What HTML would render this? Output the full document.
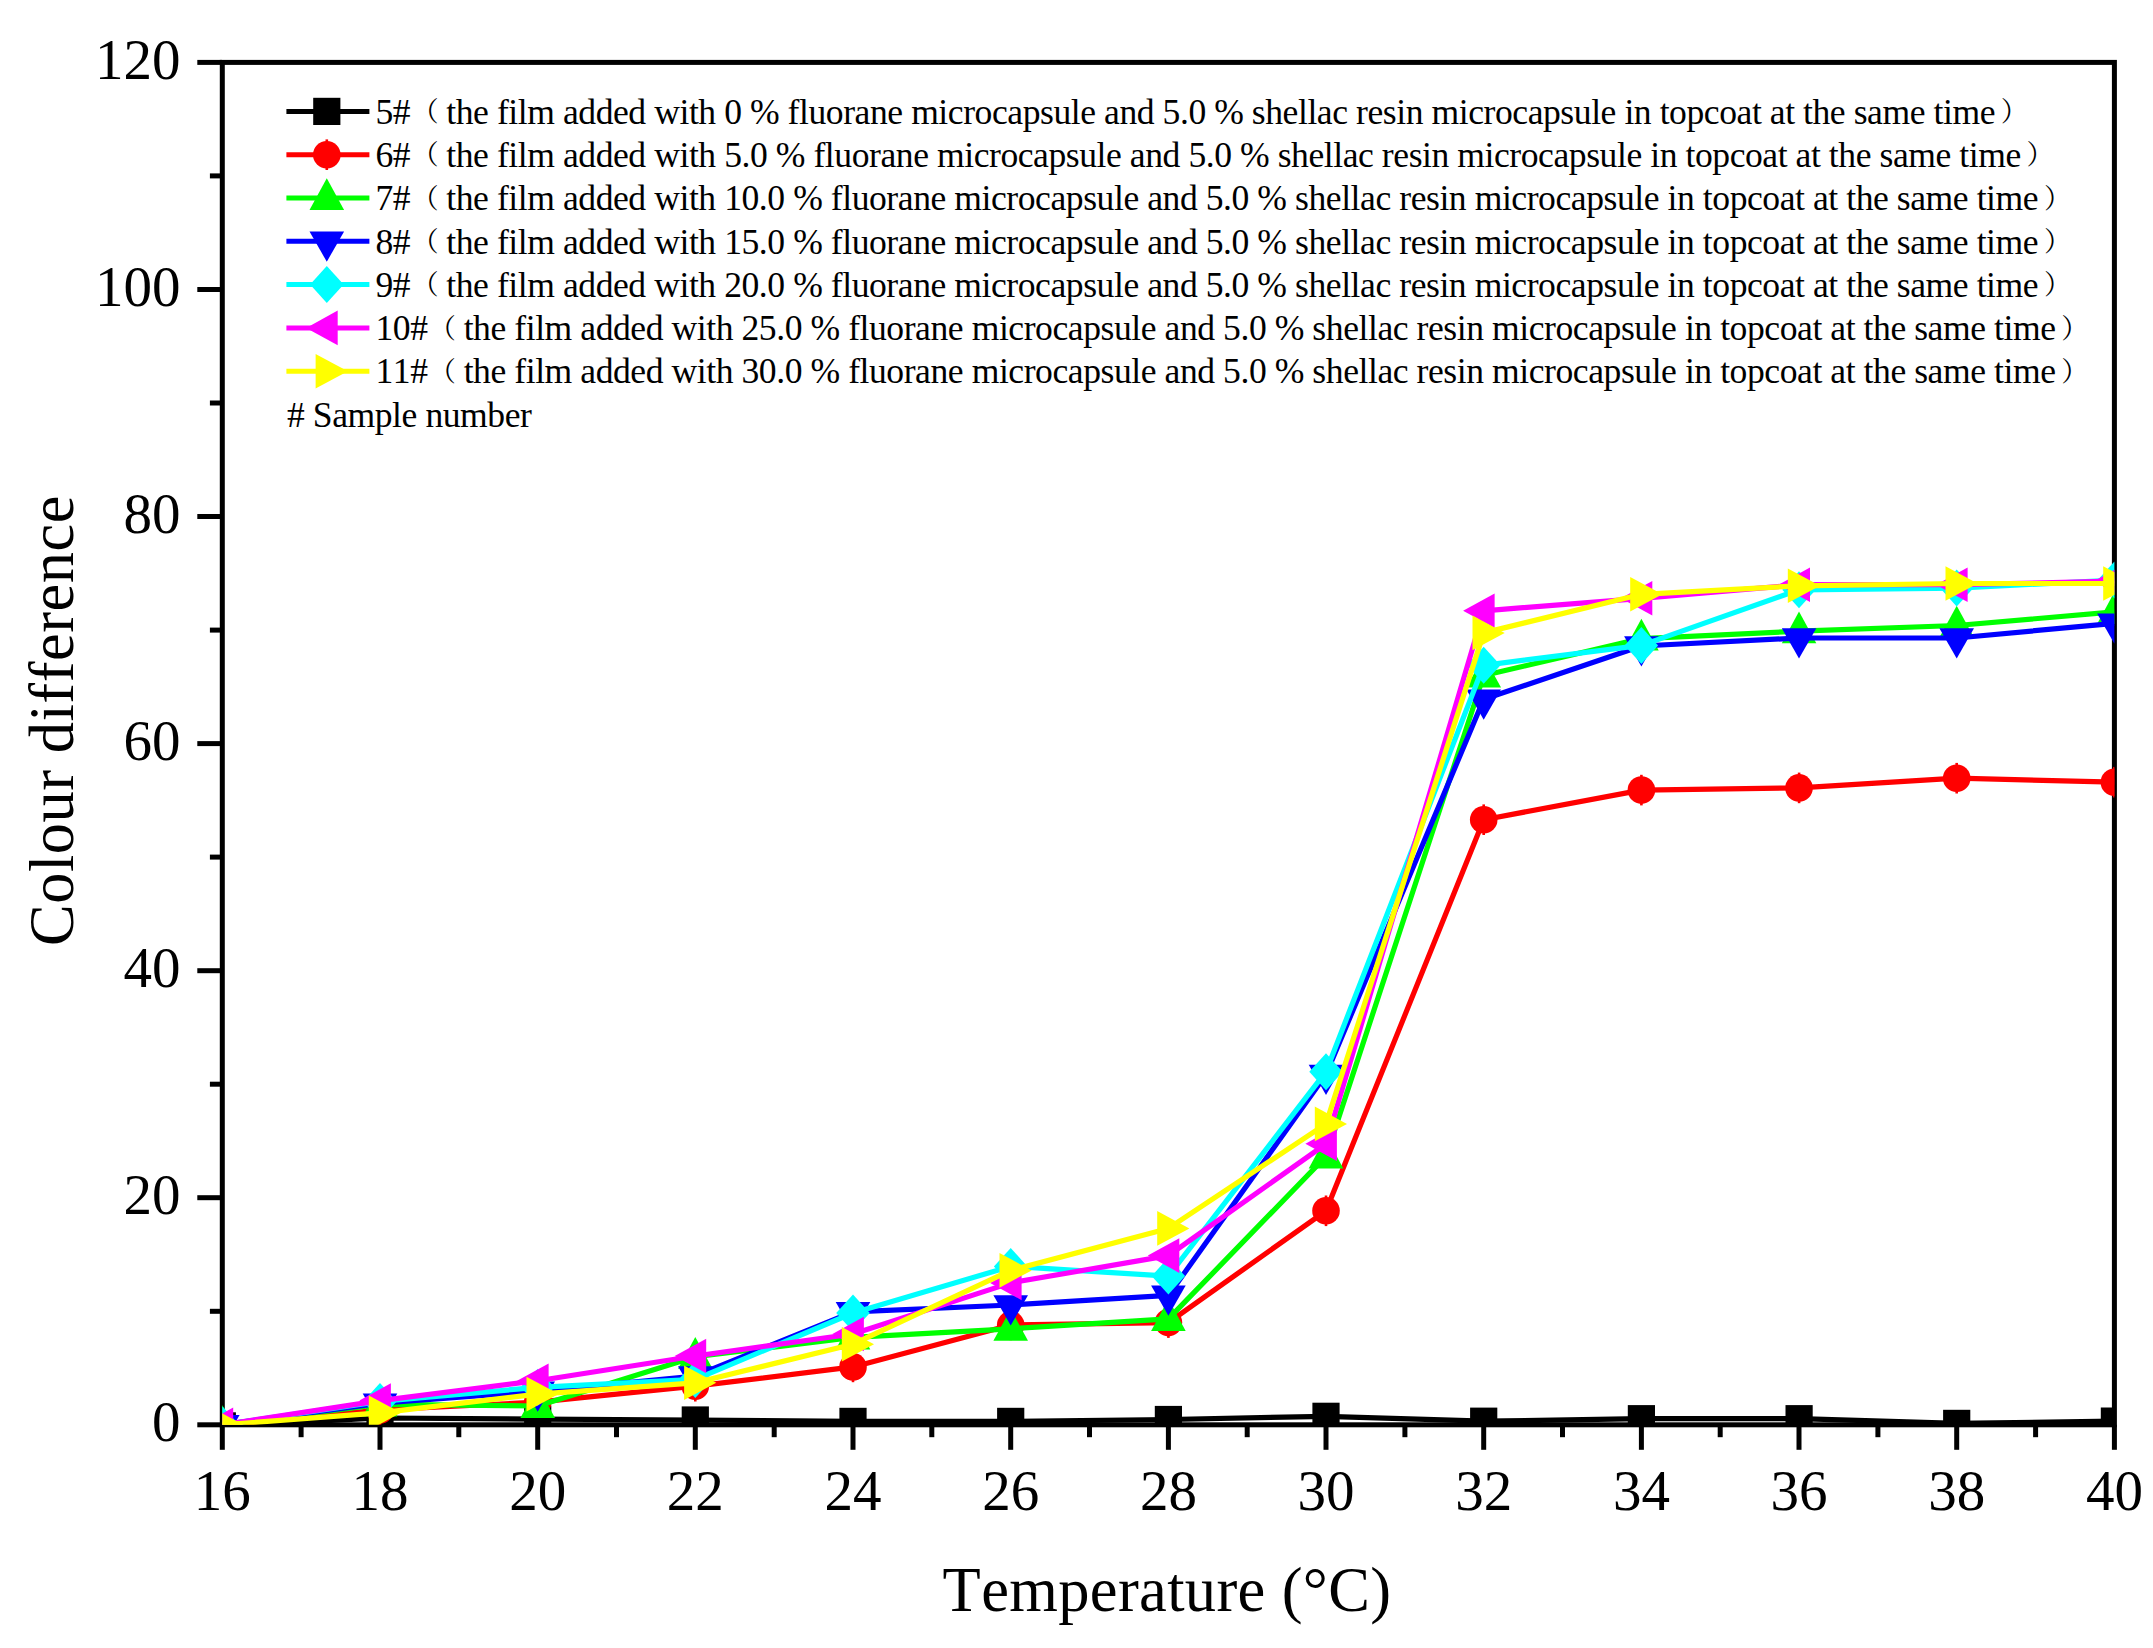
<!DOCTYPE html>
<html lang="en"><head><meta charset="utf-8"><title>Colour difference vs temperature</title>
<style>html,body{margin:0;padding:0;background:#fff}svg{display:block}text{font-family:"Liberation Serif","Noto Serif CJK SC",serif;fill:#000;font-kerning:none}.tk{font-size:57px}.ti{font-size:62.5px}.lg{font-size:35.6px;letter-spacing:-0.435px}.pp{font-size:27.2px;letter-spacing:0}</style></head><body>
<svg width="2153" height="1648" viewBox="0 0 2153 1648">
<rect width="2153" height="1648" fill="#fff"/>
<defs><clipPath id="fr"><rect x="222.3" y="62.4" width="1892.1" height="1362.4"/></clipPath></defs>
<g stroke="#000" stroke-width="5.0" fill="none" stroke-linecap="butt">
<rect x="222.3" y="62.4" width="1892.1" height="1362.4"/>
<line x1="197.3" y1="1424.8" x2="222.3" y2="1424.8"/>
<line x1="209.9" y1="1311.3" x2="222.3" y2="1311.3"/>
<line x1="197.3" y1="1197.7" x2="222.3" y2="1197.7"/>
<line x1="209.9" y1="1084.2" x2="222.3" y2="1084.2"/>
<line x1="197.3" y1="970.7" x2="222.3" y2="970.7"/>
<line x1="209.9" y1="857.1" x2="222.3" y2="857.1"/>
<line x1="197.3" y1="743.6" x2="222.3" y2="743.6"/>
<line x1="209.9" y1="630.1" x2="222.3" y2="630.1"/>
<line x1="197.3" y1="516.5" x2="222.3" y2="516.5"/>
<line x1="209.9" y1="403.0" x2="222.3" y2="403.0"/>
<line x1="197.3" y1="289.5" x2="222.3" y2="289.5"/>
<line x1="209.9" y1="175.9" x2="222.3" y2="175.9"/>
<line x1="197.3" y1="62.4" x2="222.3" y2="62.4"/>
<line x1="222.3" y1="1424.8" x2="222.3" y2="1449.8"/>
<line x1="301.1" y1="1424.8" x2="301.1" y2="1437.2"/>
<line x1="380.0" y1="1424.8" x2="380.0" y2="1449.8"/>
<line x1="458.8" y1="1424.8" x2="458.8" y2="1437.2"/>
<line x1="537.7" y1="1424.8" x2="537.7" y2="1449.8"/>
<line x1="616.5" y1="1424.8" x2="616.5" y2="1437.2"/>
<line x1="695.3" y1="1424.8" x2="695.3" y2="1449.8"/>
<line x1="774.2" y1="1424.8" x2="774.2" y2="1437.2"/>
<line x1="853.0" y1="1424.8" x2="853.0" y2="1449.8"/>
<line x1="931.8" y1="1424.8" x2="931.8" y2="1437.2"/>
<line x1="1010.7" y1="1424.8" x2="1010.7" y2="1449.8"/>
<line x1="1089.5" y1="1424.8" x2="1089.5" y2="1437.2"/>
<line x1="1168.4" y1="1424.8" x2="1168.4" y2="1449.8"/>
<line x1="1247.2" y1="1424.8" x2="1247.2" y2="1437.2"/>
<line x1="1326.0" y1="1424.8" x2="1326.0" y2="1449.8"/>
<line x1="1404.9" y1="1424.8" x2="1404.9" y2="1437.2"/>
<line x1="1483.7" y1="1424.8" x2="1483.7" y2="1449.8"/>
<line x1="1562.5" y1="1424.8" x2="1562.5" y2="1437.2"/>
<line x1="1641.4" y1="1424.8" x2="1641.4" y2="1449.8"/>
<line x1="1720.2" y1="1424.8" x2="1720.2" y2="1437.2"/>
<line x1="1799.0" y1="1424.8" x2="1799.0" y2="1449.8"/>
<line x1="1877.9" y1="1424.8" x2="1877.9" y2="1437.2"/>
<line x1="1956.7" y1="1424.8" x2="1956.7" y2="1449.8"/>
<line x1="2035.6" y1="1424.8" x2="2035.6" y2="1437.2"/>
<line x1="2114.4" y1="1424.8" x2="2114.4" y2="1449.8"/>
</g>
<g class="tk" text-anchor="end">
<text x="180.6" y="1441.3">0</text>
<text x="180.6" y="1214.2">20</text>
<text x="180.6" y="987.2">40</text>
<text x="180.6" y="760.1">60</text>
<text x="180.6" y="533.0">80</text>
<text x="180.6" y="306.0">100</text>
<text x="180.6" y="78.9">120</text>
</g>
<g class="tk" text-anchor="middle">
<text x="222.3" y="1509.6">16</text>
<text x="380.0" y="1509.6">18</text>
<text x="537.7" y="1509.6">20</text>
<text x="695.3" y="1509.6">22</text>
<text x="853.0" y="1509.6">24</text>
<text x="1010.7" y="1509.6">26</text>
<text x="1168.4" y="1509.6">28</text>
<text x="1326.0" y="1509.6">30</text>
<text x="1483.7" y="1509.6">32</text>
<text x="1641.4" y="1509.6">34</text>
<text x="1799.0" y="1509.6">36</text>
<text x="1956.7" y="1509.6">38</text>
<text x="2114.4" y="1509.6">40</text>
</g>
<text class="ti" text-anchor="middle" letter-spacing="0.35" x="1167" y="1611">Temperature (°C)</text>
<text class="ti" text-anchor="middle" letter-spacing="0.5" transform="translate(73.2 720.5) rotate(-90)">Colour difference</text>
<g clip-path="url(#fr)">
<polyline points="222.3,1425.9 380.0,1418.0 537.7,1419.1 695.3,1420.0 853.0,1421.4 1010.7,1421.4 1168.4,1419.5 1326.0,1416.3 1483.7,1421.2 1641.4,1418.7 1799.0,1418.7 1956.7,1423.4 2114.4,1421.1" fill="none" stroke="#000000" stroke-width="5.2" stroke-linejoin="round"/>
<rect x="208.7" y="1412.3" width="27.2" height="27.2" fill="#000000"/>
<rect x="366.4" y="1404.4" width="27.2" height="27.2" fill="#000000"/>
<rect x="524.1" y="1405.5" width="27.2" height="27.2" fill="#000000"/>
<rect x="681.7" y="1406.4" width="27.2" height="27.2" fill="#000000"/>
<rect x="839.4" y="1407.8" width="27.2" height="27.2" fill="#000000"/>
<rect x="997.1" y="1407.8" width="27.2" height="27.2" fill="#000000"/>
<rect x="1154.8" y="1405.9" width="27.2" height="27.2" fill="#000000"/>
<rect x="1312.4" y="1402.7" width="27.2" height="27.2" fill="#000000"/>
<rect x="1470.1" y="1407.6" width="27.2" height="27.2" fill="#000000"/>
<rect x="1627.8" y="1405.1" width="27.2" height="27.2" fill="#000000"/>
<rect x="1785.5" y="1405.1" width="27.2" height="27.2" fill="#000000"/>
<rect x="1943.1" y="1409.8" width="27.2" height="27.2" fill="#000000"/>
<rect x="2100.8" y="1407.5" width="27.2" height="27.2" fill="#000000"/>
<polyline points="222.3,1424.8 380.0,1410.0 537.7,1402.1 695.3,1386.2 853.0,1366.9 1010.7,1324.9 1168.4,1322.6 1326.0,1210.8 1483.7,819.7 1641.4,790.1 1799.0,787.9 1956.7,778.2 2114.4,782.2" fill="none" stroke="#ff0000" stroke-width="5.2" stroke-linejoin="round"/>
<circle cx="222.3" cy="1424.8" r="13.8" fill="#ff0000"/><rect x="221.0" y="1409.5" width="2.6" height="30.6" fill="#ff0000"/>
<circle cx="380.0" cy="1410.0" r="13.8" fill="#ff0000"/><rect x="378.7" y="1394.7" width="2.6" height="30.6" fill="#ff0000"/>
<circle cx="537.7" cy="1402.1" r="13.8" fill="#ff0000"/><rect x="536.4" y="1386.8" width="2.6" height="30.6" fill="#ff0000"/>
<circle cx="695.3" cy="1386.2" r="13.8" fill="#ff0000"/><rect x="694.0" y="1370.9" width="2.6" height="30.6" fill="#ff0000"/>
<circle cx="853.0" cy="1366.9" r="13.8" fill="#ff0000"/><rect x="851.7" y="1351.6" width="2.6" height="30.6" fill="#ff0000"/>
<circle cx="1010.7" cy="1324.9" r="13.8" fill="#ff0000"/><rect x="1009.4" y="1309.6" width="2.6" height="30.6" fill="#ff0000"/>
<circle cx="1168.4" cy="1322.6" r="13.8" fill="#ff0000"/><rect x="1167.1" y="1307.3" width="2.6" height="30.6" fill="#ff0000"/>
<circle cx="1326.0" cy="1210.8" r="13.8" fill="#ff0000"/><rect x="1324.7" y="1195.5" width="2.6" height="30.6" fill="#ff0000"/>
<circle cx="1483.7" cy="819.7" r="13.8" fill="#ff0000"/><rect x="1482.4" y="804.4" width="2.6" height="30.6" fill="#ff0000"/>
<circle cx="1641.4" cy="790.1" r="13.8" fill="#ff0000"/><rect x="1640.1" y="774.8" width="2.6" height="30.6" fill="#ff0000"/>
<circle cx="1799.0" cy="787.9" r="13.8" fill="#ff0000"/><rect x="1797.8" y="772.6" width="2.6" height="30.6" fill="#ff0000"/>
<circle cx="1956.7" cy="778.2" r="13.8" fill="#ff0000"/><rect x="1955.4" y="762.9" width="2.6" height="30.6" fill="#ff0000"/>
<circle cx="2114.4" cy="782.2" r="13.8" fill="#ff0000"/><rect x="2113.1" y="766.9" width="2.6" height="30.6" fill="#ff0000"/>
<polyline points="222.3,1424.8 380.0,1404.4 537.7,1406.0 695.3,1356.7 853.0,1337.4 1010.7,1328.8 1168.4,1318.9 1326.0,1156.4 1483.7,675.5 1641.4,638.6 1799.0,631.2 1956.7,625.5 2114.4,611.9" fill="none" stroke="#00ff00" stroke-width="5.2" stroke-linejoin="round"/>
<polygon points="222.3,1405.0 205.0,1436.8 239.6,1436.8" fill="#00ff00"/>
<polygon points="380.0,1384.6 362.7,1416.4 397.3,1416.4" fill="#00ff00"/>
<polygon points="537.7,1386.2 520.4,1418.0 555.0,1418.0" fill="#00ff00"/>
<polygon points="695.3,1336.9 678.0,1368.7 712.6,1368.7" fill="#00ff00"/>
<polygon points="853.0,1317.6 835.7,1349.4 870.3,1349.4" fill="#00ff00"/>
<polygon points="1010.7,1309.0 993.4,1340.8 1028.0,1340.8" fill="#00ff00"/>
<polygon points="1168.4,1299.1 1151.1,1330.9 1185.7,1330.9" fill="#00ff00"/>
<polygon points="1326.0,1136.6 1308.7,1168.4 1343.3,1168.4" fill="#00ff00"/>
<polygon points="1483.7,655.7 1466.4,687.5 1501.0,687.5" fill="#00ff00"/>
<polygon points="1641.4,618.8 1624.1,650.6 1658.7,650.6" fill="#00ff00"/>
<polygon points="1799.0,611.4 1781.8,643.2 1816.3,643.2" fill="#00ff00"/>
<polygon points="1956.7,605.7 1939.4,637.5 1974.0,637.5" fill="#00ff00"/>
<polygon points="2114.4,592.1 2097.1,623.9 2131.7,623.9" fill="#00ff00"/>
<polyline points="222.3,1424.8 380.0,1403.2 537.7,1391.3 695.3,1376.0 853.0,1311.8 1010.7,1305.0 1168.4,1295.4 1326.0,1074.5 1483.7,699.3 1641.4,646.0 1799.0,638.0 1956.7,638.0 2114.4,623.3" fill="none" stroke="#0000ff" stroke-width="5.2" stroke-linejoin="round"/>
<polygon points="222.3,1445.2 205.0,1415.0 239.6,1415.0" fill="#0000ff"/>
<polygon points="380.0,1423.6 362.7,1393.4 397.3,1393.4" fill="#0000ff"/>
<polygon points="537.7,1411.7 520.4,1381.5 555.0,1381.5" fill="#0000ff"/>
<polygon points="695.3,1396.4 678.0,1366.2 712.6,1366.2" fill="#0000ff"/>
<polygon points="853.0,1332.2 835.7,1302.0 870.3,1302.0" fill="#0000ff"/>
<polygon points="1010.7,1325.4 993.4,1295.2 1028.0,1295.2" fill="#0000ff"/>
<polygon points="1168.4,1315.8 1151.1,1285.6 1185.7,1285.6" fill="#0000ff"/>
<polygon points="1326.0,1094.9 1308.7,1064.7 1343.3,1064.7" fill="#0000ff"/>
<polygon points="1483.7,719.7 1466.4,689.5 1501.0,689.5" fill="#0000ff"/>
<polygon points="1641.4,666.4 1624.1,636.2 1658.7,636.2" fill="#0000ff"/>
<polygon points="1799.0,658.4 1781.8,628.2 1816.3,628.2" fill="#0000ff"/>
<polygon points="1956.7,658.4 1939.4,628.2 1974.0,628.2" fill="#0000ff"/>
<polygon points="2114.4,643.7 2097.1,613.5 2131.7,613.5" fill="#0000ff"/>
<polyline points="222.3,1424.8 380.0,1401.5 537.7,1387.3 695.3,1379.4 853.0,1313.0 1010.7,1266.4 1168.4,1276.1 1326.0,1071.7 1483.7,665.3 1641.4,645.4 1799.0,589.8 1956.7,588.1 2114.4,580.1" fill="none" stroke="#00ffff" stroke-width="5.2" stroke-linejoin="round"/>
<polygon points="222.3,1406.3 239.1,1424.8 222.3,1443.3 205.6,1424.8" fill="#00ffff"/>
<polygon points="380.0,1383.0 396.7,1401.5 380.0,1420.0 363.2,1401.5" fill="#00ffff"/>
<polygon points="537.7,1368.8 554.4,1387.3 537.7,1405.8 520.9,1387.3" fill="#00ffff"/>
<polygon points="695.3,1360.9 712.1,1379.4 695.3,1397.9 678.6,1379.4" fill="#00ffff"/>
<polygon points="853.0,1294.5 869.8,1313.0 853.0,1331.5 836.2,1313.0" fill="#00ffff"/>
<polygon points="1010.7,1247.9 1027.4,1266.4 1010.7,1284.9 993.9,1266.4" fill="#00ffff"/>
<polygon points="1168.4,1257.6 1185.1,1276.1 1168.4,1294.6 1151.6,1276.1" fill="#00ffff"/>
<polygon points="1326.0,1053.2 1342.8,1071.7 1326.0,1090.2 1309.3,1071.7" fill="#00ffff"/>
<polygon points="1483.7,646.8 1500.5,665.3 1483.7,683.8 1467.0,665.3" fill="#00ffff"/>
<polygon points="1641.4,626.9 1658.1,645.4 1641.4,663.9 1624.6,645.4" fill="#00ffff"/>
<polygon points="1799.0,571.3 1815.8,589.8 1799.0,608.3 1782.3,589.8" fill="#00ffff"/>
<polygon points="1956.7,569.6 1973.5,588.1 1956.7,606.6 1940.0,588.1" fill="#00ffff"/>
<polygon points="2114.4,561.6 2131.2,580.1 2114.4,598.6 2097.7,580.1" fill="#00ffff"/>
<polyline points="222.3,1424.8 380.0,1400.6 537.7,1380.7 695.3,1356.0 853.0,1334.0 1010.7,1282.9 1168.4,1255.6 1326.0,1143.8 1483.7,610.8 1641.4,598.3 1799.0,584.7 1956.7,584.7 2114.4,581.2" fill="none" stroke="#ff00ff" stroke-width="5.2" stroke-linejoin="round"/>
<polygon points="201.7,1424.8 233.2,1407.5 233.2,1442.1" fill="#ff00ff"/>
<polygon points="359.4,1400.6 390.9,1383.3 390.9,1417.9" fill="#ff00ff"/>
<polygon points="517.1,1380.7 548.6,1363.4 548.6,1398.0" fill="#ff00ff"/>
<polygon points="674.7,1356.0 706.2,1338.7 706.2,1373.3" fill="#ff00ff"/>
<polygon points="832.4,1334.0 863.9,1316.7 863.9,1351.3" fill="#ff00ff"/>
<polygon points="990.1,1282.9 1021.6,1265.6 1021.6,1300.2" fill="#ff00ff"/>
<polygon points="1147.8,1255.6 1179.3,1238.3 1179.3,1272.9" fill="#ff00ff"/>
<polygon points="1305.4,1143.8 1336.9,1126.5 1336.9,1161.1" fill="#ff00ff"/>
<polygon points="1463.1,610.8 1494.6,593.5 1494.6,628.1" fill="#ff00ff"/>
<polygon points="1620.8,598.3 1652.3,581.0 1652.3,615.6" fill="#ff00ff"/>
<polygon points="1778.5,584.7 1810.0,567.4 1810.0,602.0" fill="#ff00ff"/>
<polygon points="1936.1,584.7 1967.6,567.4 1967.6,602.0" fill="#ff00ff"/>
<polygon points="2093.8,581.2 2125.3,563.9 2125.3,598.5" fill="#ff00ff"/>
<polyline points="222.3,1424.8 380.0,1412.8 537.7,1394.1 695.3,1382.8 853.0,1344.2 1010.7,1270.4 1168.4,1228.4 1326.0,1123.9 1483.7,632.9 1641.4,594.3 1799.0,585.8 1956.7,583.5 2114.4,583.5" fill="none" stroke="#ffff00" stroke-width="5.2" stroke-linejoin="round"/>
<polygon points="243.3,1424.8 211.1,1407.5 211.1,1442.1" fill="#ffff00"/>
<polygon points="401.0,1412.8 368.8,1395.5 368.8,1430.1" fill="#ffff00"/>
<polygon points="558.7,1394.1 526.5,1376.8 526.5,1411.4" fill="#ffff00"/>
<polygon points="716.3,1382.8 684.1,1365.5 684.1,1400.1" fill="#ffff00"/>
<polygon points="874.0,1344.2 841.8,1326.9 841.8,1361.5" fill="#ffff00"/>
<polygon points="1031.7,1270.4 999.5,1253.1 999.5,1287.7" fill="#ffff00"/>
<polygon points="1189.4,1228.4 1157.2,1211.1 1157.2,1245.7" fill="#ffff00"/>
<polygon points="1347.0,1123.9 1314.8,1106.6 1314.8,1141.2" fill="#ffff00"/>
<polygon points="1504.7,632.9 1472.5,615.6 1472.5,650.2" fill="#ffff00"/>
<polygon points="1662.4,594.3 1630.2,577.0 1630.2,611.6" fill="#ffff00"/>
<polygon points="1820.0,585.8 1787.8,568.5 1787.8,603.1" fill="#ffff00"/>
<polygon points="1977.7,583.5 1945.5,566.2 1945.5,600.8" fill="#ffff00"/>
<polygon points="2135.4,583.5 2103.2,566.2 2103.2,600.8" fill="#ffff00"/>
</g>
<g class="lg">
<line x1="286.4" y1="111.4" x2="369.4" y2="111.4" stroke="#000000" stroke-width="5"/>
<rect x="313.2" y="97.8" width="27.2" height="27.2" fill="#000000"/>
<text id="lg0" x="375.5" y="123.6">5#<tspan class="pp" dx="1.3" dy="-2.6">（</tspan><tspan dx="7.6" dy="2.6">the film added with 0 % fluorane microcapsule and 5.0 % shellac resin microcapsule in topcoat at the same time</tspan><tspan class="pp" dx="5.8" dy="-2.6">）</tspan></text>
<line x1="286.4" y1="154.7" x2="369.4" y2="154.7" stroke="#ff0000" stroke-width="5"/>
<circle cx="326.8" cy="154.7" r="13.8" fill="#ff0000"/><rect x="325.5" y="139.4" width="2.6" height="30.6" fill="#ff0000"/>
<text id="lg1" x="375.5" y="166.9">6#<tspan class="pp" dx="1.3" dy="-2.6">（</tspan><tspan dx="7.6" dy="2.6">the film added with 5.0 % fluorane microcapsule and 5.0 % shellac resin microcapsule in topcoat at the same time</tspan><tspan class="pp" dx="5.8" dy="-2.6">）</tspan></text>
<line x1="286.4" y1="198.0" x2="369.4" y2="198.0" stroke="#00ff00" stroke-width="5"/>
<polygon points="326.8,178.2 309.5,210.0 344.1,210.0" fill="#00ff00"/>
<text id="lg2" x="375.5" y="210.2">7#<tspan class="pp" dx="1.3" dy="-2.6">（</tspan><tspan dx="7.6" dy="2.6">the film added with 10.0 % fluorane microcapsule and 5.0 % shellac resin microcapsule in topcoat at the same time</tspan><tspan class="pp" dx="5.8" dy="-2.6">）</tspan></text>
<line x1="286.4" y1="241.3" x2="369.4" y2="241.3" stroke="#0000ff" stroke-width="5"/>
<polygon points="326.8,261.7 309.5,231.5 344.1,231.5" fill="#0000ff"/>
<text id="lg3" x="375.5" y="253.5">8#<tspan class="pp" dx="1.3" dy="-2.6">（</tspan><tspan dx="7.6" dy="2.6">the film added with 15.0 % fluorane microcapsule and 5.0 % shellac resin microcapsule in topcoat at the same time</tspan><tspan class="pp" dx="5.8" dy="-2.6">）</tspan></text>
<line x1="286.4" y1="284.6" x2="369.4" y2="284.6" stroke="#00ffff" stroke-width="5"/>
<polygon points="326.8,266.1 343.6,284.6 326.8,303.1 310.1,284.6" fill="#00ffff"/>
<text id="lg4" x="375.5" y="296.8">9#<tspan class="pp" dx="1.3" dy="-2.6">（</tspan><tspan dx="7.6" dy="2.6">the film added with 20.0 % fluorane microcapsule and 5.0 % shellac resin microcapsule in topcoat at the same time</tspan><tspan class="pp" dx="5.8" dy="-2.6">）</tspan></text>
<line x1="286.4" y1="327.9" x2="369.4" y2="327.9" stroke="#ff00ff" stroke-width="5"/>
<polygon points="306.2,327.9 337.7,310.6 337.7,345.2" fill="#ff00ff"/>
<text id="lg5" x="375.5" y="340.1">10#<tspan class="pp" dx="1.3" dy="-2.6">（</tspan><tspan dx="7.6" dy="2.6">the film added with 25.0 % fluorane microcapsule and 5.0 % shellac resin microcapsule in topcoat at the same time</tspan><tspan class="pp" dx="5.8" dy="-2.6">）</tspan></text>
<line x1="286.4" y1="371.2" x2="369.4" y2="371.2" stroke="#ffff00" stroke-width="5"/>
<polygon points="347.8,371.2 315.6,353.9 315.6,388.5" fill="#ffff00"/>
<text id="lg6" x="375.5" y="383.4">11#<tspan class="pp" dx="1.3" dy="-2.6">（</tspan><tspan dx="7.6" dy="2.6">the film added with 30.0 % fluorane microcapsule and 5.0 % shellac resin microcapsule in topcoat at the same time</tspan><tspan class="pp" dx="5.8" dy="-2.6">）</tspan></text>
<text id="lg7" x="287" y="426.7"># Sample number</text>
</g>
</svg></body></html>
